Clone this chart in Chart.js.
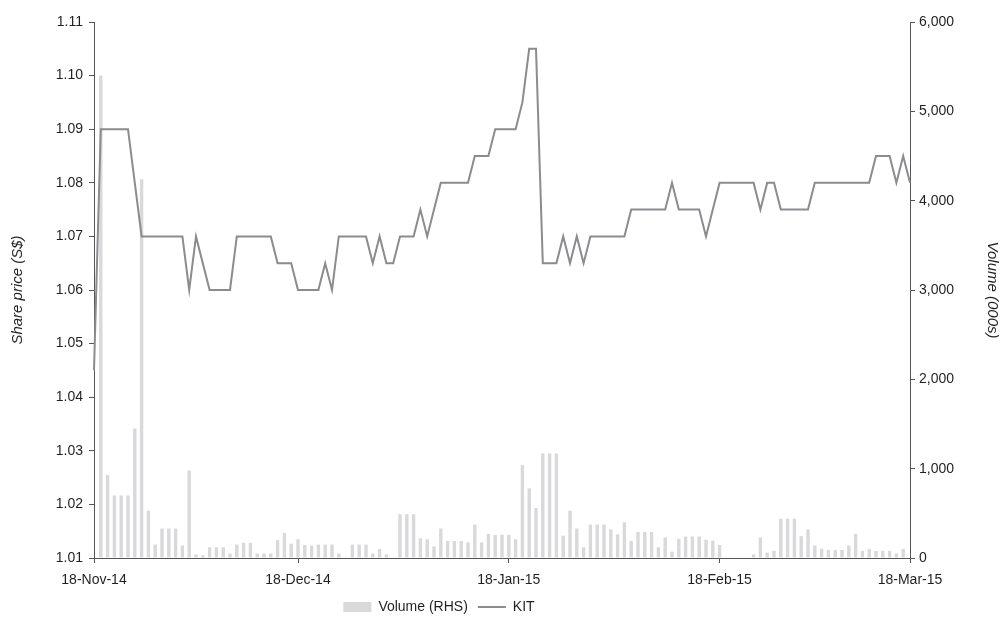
<!DOCTYPE html>
<html>
<head>
<meta charset="utf-8">
<script src="https://cdn.jsdelivr.net/npm/chart.js@4.4.1/dist/chart.umd.min.js"></script>
<style>
  html,body{margin:0;padding:0;background:#fff;}
  #wrap{width:1004px;height:641px;}
</style>
</head>
<body>
<div id="wrap"><canvas id="grafico" width="1004" height="641"></canvas></div>
<script>
// ------------------- DADOS -------------------
// one category per calendar day, 18-Nov-14 .. 18-Mar-15
const startDate = new Date(2014, 10, 18);
const totalDays = 121;

const tickLabels = ['18-Nov-14', '18-Dec-14', '18-Jan-15', '18-Feb-15', '18-Mar-15'];

// KIT share price (S$)
const kitPrice = [
  1.045, 1.09, 1.09, 1.09, 1.09, 1.09, 1.08, 1.07, 1.07, 1.07,
  1.07, 1.07, 1.07, 1.07, 1.06, 1.07, 1.065, 1.06, 1.06, 1.06,
  1.06, 1.07, 1.07, 1.07, 1.07, 1.07, 1.07, 1.065, 1.065, 1.065,
  1.06, 1.06, 1.06, 1.06, 1.065, 1.06, 1.07, 1.07, 1.07, 1.07,
  1.07, 1.065, 1.07, 1.065, 1.065, 1.07, 1.07, 1.07, 1.075, 1.07,
  1.075, 1.08, 1.08, 1.08, 1.08, 1.08, 1.085, 1.085, 1.085, 1.09,
  1.09, 1.09, 1.09, 1.095, 1.105, 1.105, 1.065, 1.065, 1.065, 1.07,
  1.065, 1.07, 1.065, 1.07, 1.07, 1.07, 1.07, 1.07, 1.07, 1.075,
  1.075, 1.075, 1.075, 1.075, 1.075, 1.08, 1.075, 1.075, 1.075, 1.075,
  1.07, 1.075, 1.08, 1.08, 1.08, 1.08, 1.08, 1.08, 1.075, 1.08,
  1.08, 1.075, 1.075, 1.075, 1.075, 1.075, 1.08, 1.08, 1.08, 1.08,
  1.08, 1.08, 1.08, 1.08, 1.08, 1.085, 1.085, 1.085, 1.08, 1.085,
  1.08
];

// Volume (000s)
const volume = [
  0, 5400, 930, 700, 700, 700, 1450, 4240, 530, 150,
  330, 330, 330, 140, 980, 40, 30, 120, 120, 120,
  50, 150, 170, 170, 50, 50, 50, 200, 280, 160,
  210, 145, 140, 150, 150, 150, 50, 0, 150, 150,
  150, 50, 100, 40, 0, 490, 490, 490, 220, 210,
  130, 330, 190, 190, 190, 175, 375, 175, 270, 260,
  260, 260, 210, 1040, 780, 560, 1170, 1170, 1170, 250,
  530, 330, 120, 375, 375, 375, 320, 265, 400, 190,
  290, 290, 290, 120, 230, 70, 215, 240, 240, 240,
  205, 195, 145, 0, 0, 0, 0, 40, 230, 60,
  80, 440, 440, 440, 245, 320, 140, 105, 90, 90,
  90, 140, 270, 80, 100, 80, 80, 80, 50, 100,
  0
];

const meses = ['Jan','Feb','Mar','Apr','May','Jun','Jul','Aug','Sep','Oct','Nov','Dec'];
const dias = [];
for(let i=0;i<totalDays;i++){
  const d = new Date(startDate.getFullYear(), startDate.getMonth(), startDate.getDate() + i);
  dias.push(d.getDate() + '-' + meses[d.getMonth()] + '-' + String(d.getFullYear()).slice(2));
}
const tickIdx = tickLabels.map(t => dias.indexOf(t));

// ------------------- ESTILO -------------------
const corTexto = '#231f20';
const corEixo = '#555555';
Chart.defaults.font.family = "'Liberation Sans', Arial, sans-serif";
Chart.defaults.font.size = 14;
Chart.defaults.color = corTexto;

// legend sits a little left of centre in the original
const moverLegenda = {
  id: 'moverLegenda',
  afterLayout(chart){
    chart.legend.left -= 63;
    chart.legend.right -= 63;
  }
};

// ------------------- GRÁFICO -------------------
new Chart(document.getElementById('grafico'), {
  type: 'bar',
  data: {
    labels: dias,
    datasets: [
      {
        label: 'Volume (RHS)',
        data: volume,
        yAxisID: 'yVol',
        backgroundColor: '#d9d9db',
        borderWidth: 0,
        barPercentage: 0.5,
        categoryPercentage: 1,
        order: 1
      },
      {
        type: 'line',
        label: 'KIT',
        data: kitPrice,
        yAxisID: 'yPreco',
        borderColor: '#8b8b90',
        backgroundColor: '#8b8b90',
        borderWidth: 2,
        pointRadius: 0,
        tension: 0,
        order: 0
      }
    ]
  },
  options: {
    responsive: false,
    animation: false,
    devicePixelRatio: 1,
    layout: { padding: { top: 22, bottom: 17, left: 0, right: 0 } },
    scales: {
      x: {
        offset: false,
        grid: { offset: false, drawOnChartArea: false, tickLength: 5, color: corEixo },
        border: { display: true, color: corEixo, width: 1 },
        ticks: { autoSkip: false, maxRotation: 0, padding: 9 },
        afterBuildTicks: axis => { axis.ticks = axis.ticks.filter(t => tickIdx.includes(t.value)); },
        afterFit: s => { s.height = 32; }
      },
      yPreco: {
        position: 'left',
        min: 1.01,
        max: 1.11,
        ticks: { stepSize: 0.01, padding: 6, callback: v => Number(v).toFixed(2) },
        grid: { drawOnChartArea: false, tickLength: 5, color: corEixo },
        border: { display: true, color: corEixo, width: 1 },
        title: { display: true, text: 'Share price (S$)', font: { style: 'italic', size: 15 }, padding: { top: 9, bottom: 0 } },
        afterFit: s => { s.width = 94; }
      },
      yVol: {
        position: 'right',
        min: 0,
        max: 6000,
        ticks: { stepSize: 1000, padding: 4, callback: v => Number(v).toLocaleString('en-US') },
        grid: { drawOnChartArea: false, tickLength: 5, color: corEixo },
        border: { display: true, color: corEixo, width: 1 },
        title: { display: true, text: 'Volume (000s)', font: { style: 'italic', size: 15 }, padding: { top: 3, bottom: 0 } },
        afterFit: s => { s.width = 94; }
      }
    },
    plugins: {
      tooltip: { enabled: false },
      legend: {
        position: 'bottom',
        labels: {
          usePointStyle: true,
          pointStyleWidth: 28,
          boxHeight: 10,
          padding: 10,
          sort: (a, b) => a.datasetIndex - b.datasetIndex,
          generateLabels: chart => Chart.defaults.plugins.legend.labels.generateLabels(chart).map(l => {
            l.pointStyle = l.datasetIndex === 0 ? 'rect' : 'line';
            return l;
          })
        }
      }
    }
  },
  plugins: [moverLegenda]
});
</script>
</body>
</html>
